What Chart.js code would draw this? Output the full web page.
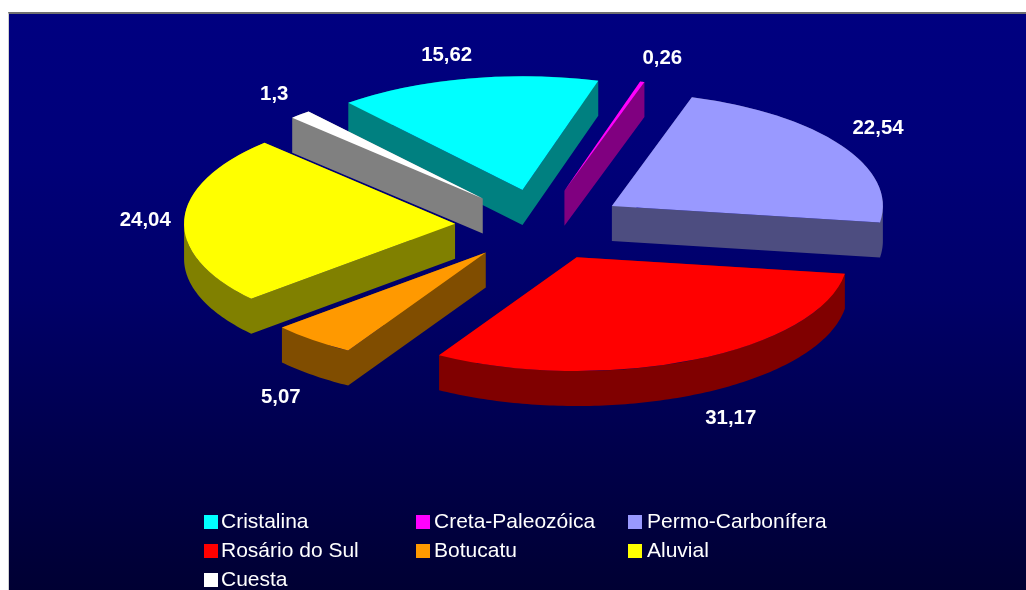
<!DOCTYPE html>
<html>
<head>
<meta charset="utf-8">
<title>Pie</title>
<script src="https://cdn.jsdelivr.net/npm/chart.js@4"></script>
<style>
  html, body { margin: 0; padding: 0; background: #fff; overflow: hidden; }
  #wrap { position: relative; width: 1026px; height: 590px; overflow: hidden; }
  #panel {
    position: absolute; left: 8px; top: 12px; right: 0; bottom: 0;
    border-top: 2px solid #707070; border-left: 1px solid #d0d0d0;
    background: linear-gradient(#000080 0%, #000079 25%, #000068 50%, #00004c 75%, #000033 100%);
  }
  #myChart { position: absolute; left: 0; top: 0; }
  #legend {
    position: absolute; left: 0; top: 0; width: 1026px; height: 590px;
    font: 21px "Liberation Sans", Arial, sans-serif; color: #fff;
  }
  .item { position: absolute; white-space: nowrap; line-height: 24px; height: 24px; }
  .box { position: absolute; left: 0; top: 6px; width: 14px; height: 14px; }
  .item span { position: absolute; top: 0; }
</style>
</head>
<body>
<div id="wrap">
  <div id="panel"></div>
  <canvas id="myChart" width="1026" height="590"></canvas>
  <div id="legend"></div>
</div>
<script>
const labels = ['Cristalina', 'Creta-Paleozóica', 'Permo-Carbonífera', 'Rosário do Sul', 'Botucatu', 'Aluvial', 'Cuesta'];
const values = [15.62, 0.26, 22.54, 31.17, 5.07, 24.04, 1.3];
const topColors = ['#00ffff', '#ff00ff', '#9999ff', '#ff0000', '#ff9900', '#ffff00', '#ffffff'];
const sideColors = ['#008080', '#800080', '#4d4d80', '#800000', '#804d00', '#808000', '#808080'];

// nudges for the value labels, from the point just past the slice rim
const labelDx = [-20, 20, 37, 37, -32, -39, -26];
const labelDy = [-23, -23, -17, 59, 57, 1, -20];

const squash = 0.42;  // how flat the pie is tilted
const depth = 35;     // thickness of the slab in screen px
const rimRadius = 271;
const explode = 85;

function tilt(ctx, chart) {
  const cy = (chart.chartArea.top + chart.chartArea.bottom) / 2;
  ctx.translate(0, cy);
  ctx.scale(1, squash);
  ctx.translate(0, -cy);
}

// outline of a slice's top face in screen px
function sliceOutline(arc, cy) {
  const toScreen = (x, y) => [x, cy + (y - cy) * squash];
  const pts = [toScreen(arc.x, arc.y)];
  const steps = Math.max(2, Math.ceil((arc.endAngle - arc.startAngle) * 60));
  for (let s = 0; s <= steps; s++) {
    const a = arc.startAngle + (arc.endAngle - arc.startAngle) * s / steps;
    pts.push(toScreen(arc.x + Math.cos(a) * arc.outerRadius, arc.y + Math.sin(a) * arc.outerRadius));
  }
  return pts;
}

// sweeps the outline straight down as one path, so there are no seams
function drawSlab(ctx, pts, color) {
  ctx.beginPath();
  pts.forEach((p, i) => {
    const q = pts[(i + 1) % pts.length];
    // same winding for each quad, the nonzero fill then gives their union
    const [a, b] = q[0] >= p[0] ? [p, q] : [q, p];
    ctx.moveTo(a[0], a[1]);
    ctx.lineTo(b[0], b[1]);
    ctx.lineTo(b[0], b[1] + depth);
    ctx.lineTo(a[0], a[1] + depth);
    ctx.closePath();
  });
  ctx.fillStyle = color;
  ctx.fill();
}

const pie3d = {
  id: 'pie3d',
  // the arc's own offset option eats the thin slices, so push them out here
  afterDatasetsUpdate(chart) {
    chart.getDatasetMeta(0).data.forEach((arc) => {
      const mid = (arc.startAngle + arc.endAngle) / 2;
      arc.x += Math.cos(mid) * explode;
      arc.y += Math.sin(mid) * explode;
    });
  },
  beforeDatasetsDraw(chart) {
    const ctx = chart.ctx;
    const cy = (chart.chartArea.top + chart.chartArea.bottom) / 2;
    chart.getDatasetMeta(0).data.forEach((arc, i) => {
      drawSlab(ctx, sliceOutline(arc, cy), sideColors[i]);
    });
    ctx.save();
    tilt(ctx, chart);
  },
  afterDatasetsDraw(chart) {
    chart.ctx.restore();
  },
  afterDraw(chart) {
    const ctx = chart.ctx;
    const arcs = chart.getDatasetMeta(0).data;
    ctx.save();
    ctx.font = 'bold 20.4px "Liberation Sans", Arial, sans-serif';
    ctx.fillStyle = '#ffffff';
    ctx.textAlign = 'center';
    ctx.textBaseline = 'middle';
    const cy = (chart.chartArea.top + chart.chartArea.bottom) / 2;
    arcs.forEach((arc, i) => {
      const mid = (arc.startAngle + arc.endAngle) / 2;
      const x = arc.x + Math.cos(mid) * rimRadius + labelDx[i];
      const y = cy + (arc.y - cy + Math.sin(mid) * rimRadius) * squash + labelDy[i];
      ctx.fillText(String(values[i]).replace('.', ','), x, y);
    });
    ctx.restore();
  }
};

const chart = new Chart(document.getElementById('myChart'), {
  type: 'pie',
  data: {
    labels: labels,
    datasets: [{
      data: values,
      backgroundColor: topColors,
      borderWidth: 0,
      clip: false
    }]
  },
  options: {
    responsive: false,
    animation: false,
    events: [],
    rotation: -40,
    radius: rimRadius,
    layout: { padding: { left: 54, bottom: 140 } },
    plugins: { legend: { display: false }, tooltip: { enabled: false } }
  },
  plugins: [pie3d]
});

// three column legend like the original, built from the chart's own labels
const legendBox = document.getElementById('legend');
const colX = [204, 416, 628];
const textGap = [17, 18, 19];
const rowY = [509, 538, 567];
chart.data.labels.forEach((name, i) => {
  const item = document.createElement('div');
  item.className = 'item';
  item.style.left = colX[i % 3] + 'px';
  item.style.top = rowY[Math.floor(i / 3)] + 'px';
  const box = document.createElement('div');
  box.className = 'box';
  box.style.background = topColors[i];
  const text = document.createElement('span');
  text.textContent = name;
  text.style.left = textGap[i % 3] + 'px';
  item.appendChild(box);
  item.appendChild(text);
  legendBox.appendChild(item);
});
</script>
</body>
</html>
